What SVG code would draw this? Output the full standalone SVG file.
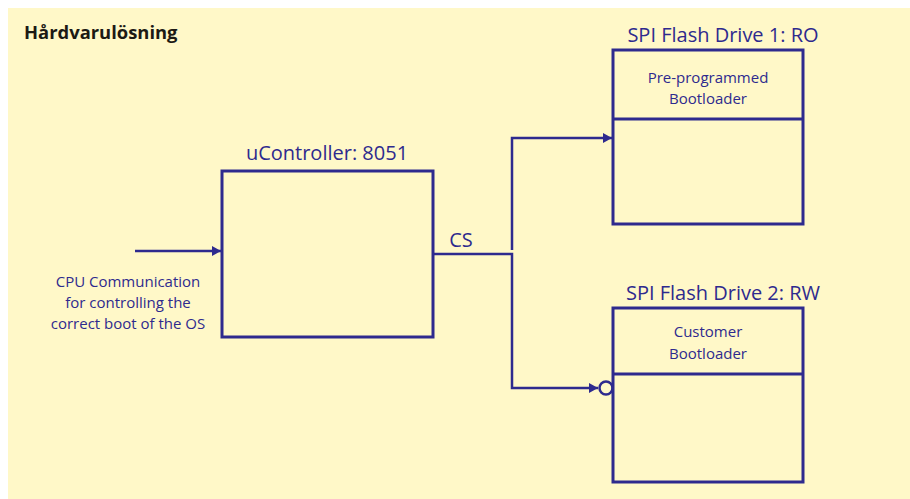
<svg xmlns="http://www.w3.org/2000/svg" width="910" height="499" viewBox="0 0 910 499">
<style>
.bg{fill:#fff8c8}
.box{fill:none;stroke:#2e2a8e;stroke-width:3}
.ln{fill:none;stroke:#2e2a8e;stroke-width:2.5}
.lbl{font-family:"Open Sans","Noto Sans",sans-serif;fill:#2e2a8e;font-size:20px;text-anchor:middle}
.sm{font-family:"Open Sans","Noto Sans",sans-serif;fill:#2e2a8e;font-size:15px;text-anchor:middle}
.title{font-family:"Open Sans","Noto Sans",sans-serif;fill:#1c1a14;font-size:18.4px;font-weight:bold}
</style>
<defs>
<marker id="arr" markerWidth="10" markerHeight="10" refX="9" refY="5" orient="auto" markerUnits="userSpaceOnUse">
<path d="M0,0 L9,5 L0,10 Z" fill="#2e2a8e"/>
</marker>
</defs>
<rect class="bg" x="8" y="8" width="902" height="491"/>
<text class="title" x="24" y="39">Hårdvarulösning</text>

<g id="ucontroller">
<rect class="box" x="222" y="171" width="211" height="166"/>
<text class="lbl" x="327" y="160">uController: 8051</text>
</g>

<g id="cpu-comm">
<text class="sm" x="128" y="287">CPU Communication</text>
<text class="sm" x="128" y="308">for controlling the</text>
<text class="sm" x="128" y="329">correct boot of the OS</text>
</g>

<g id="drive1">
<rect class="box" x="613" y="50" width="190" height="174"/>
<line class="box" x1="613" y1="119" x2="803" y2="119"/>
<text class="lbl" x="723" y="42">SPI Flash Drive 1: RO</text>
<text class="sm" x="708" y="83">Pre-programmed</text>
<text class="sm" x="708" y="104">Bootloader</text>
</g>

<g id="drive2">
<rect class="box" x="613" y="308" width="190" height="174"/>
<line class="box" x1="613" y1="374" x2="803" y2="374"/>
<text class="lbl" x="723" y="300">SPI Flash Drive 2: RW</text>
<text class="sm" x="708" y="337">Customer</text>
<text class="sm" x="708" y="359">Bootloader</text>
</g>

<g id="connectors">
<line class="ln" x1="135" y1="251" x2="221" y2="251" marker-end="url(#arr)"/>
<text class="lbl" x="461" y="247">CS</text>
<polyline class="ln" points="433,254 512,254 512,388 598,388" marker-end="url(#arr)"/>
<circle cx="606" cy="388" r="6.5" fill="none" stroke="#2e2a8e" stroke-width="2.5"/>
<polyline class="ln" points="512,250 512,138 612,138" marker-end="url(#arr)"/>
</g>
</svg>
